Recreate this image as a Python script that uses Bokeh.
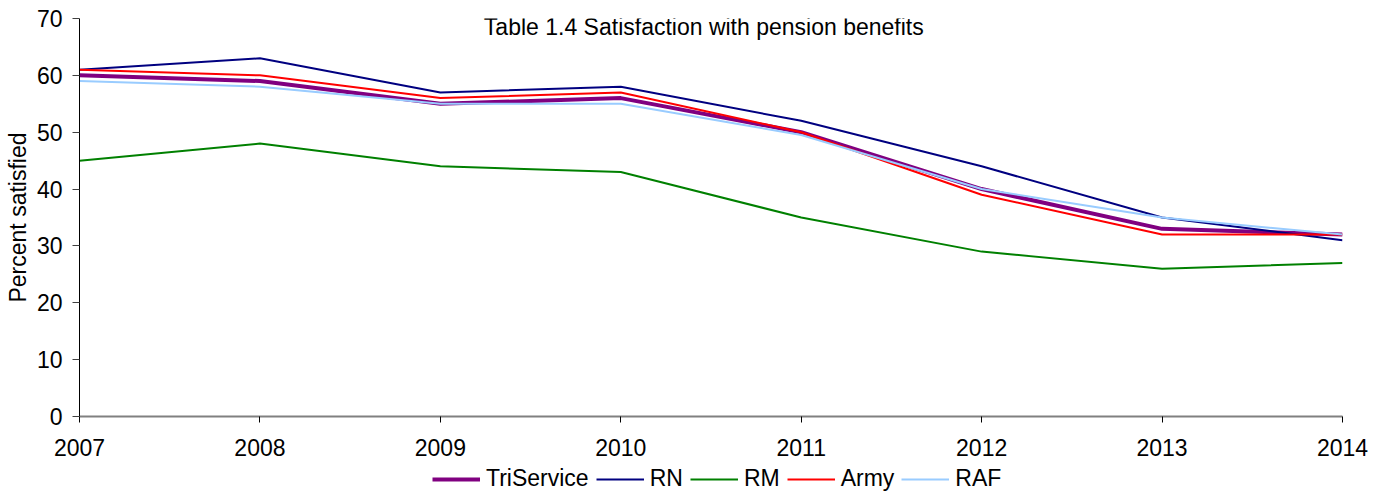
from bokeh.plotting import figure
from bokeh.layouts import column
from bokeh.models import Range1d, FixedTicker, Legend, LegendItem, Label
from bokeh.embed import file_html
from bokeh.resources import INLINE

years = [2007, 2008, 2009, 2010, 2011, 2012, 2013, 2014]
triservice = [60, 59, 55, 56, 50, 40, 33, 32]
rn = [61, 63, 57, 58, 52, 44, 35, 31]
rm = [45, 48, 44, 43, 35, 29, 26, 27]
army = [61, 60, 56, 57, 50, 39, 32, 32]
raf = [59, 58, 55, 55, 49.5, 40, 35, 32]
y_ticks = [0, 10, 20, 30, 40, 50, 60, 70]

title_text = "Table 1.4 Satisfaction with pension benefits"
y_label = "Percent satisfied"
FONT = "Liberation Sans"

p = figure(width=1385, height=465, output_backend="svg", toolbar_location=None,
           x_range=Range1d(2007, 2014), y_range=Range1d(0, 70),
           min_border_left=79, min_border_right=43, min_border_top=18, min_border_bottom=49)
p.outline_line_color = None
p.xgrid.grid_line_color = None
p.ygrid.grid_line_color = None
p.background_fill_color = "white"
p.border_fill_color = "white"

series = [
    ("TriService", triservice, "#800080", 4),
    ("RN", rn, "#000080", 2),
    ("RM", rm, "#008000", 2),
    ("Army", army, "#FF0000", 2),
    ("RAF", raf, "#99CCFF", 2),
]
for name, vals, color, w in series:
    p.line(years, vals, line_color=color, line_width=w)

# axes
xa = p.xaxis[0]
xa.ticker = FixedTicker(ticks=years)
xa.axis_line_color = "#808080"
xa.axis_line_width = 2
xa.major_tick_line_color = "black"
xa.major_tick_out = 6
xa.major_tick_in = 0
xa.minor_tick_line_color = None
xa.major_label_text_font = FONT
xa.major_label_text_font_size = "23px"
xa.major_label_text_color = "black"
xa.major_label_standoff = 16

ya = p.yaxis[0]
ya.ticker = FixedTicker(ticks=y_ticks)
ya.axis_line_color = "black"
ya.major_tick_line_color = "#404040"
ya.major_tick_out = 7
ya.major_tick_in = 0
ya.minor_tick_line_color = None
ya.major_label_text_font = FONT
ya.major_label_text_font_size = "23px"
ya.major_label_text_color = "black"
ya.major_label_standoff = 10
ya.axis_label = y_label
ya.axis_label_text_font = FONT
ya.axis_label_text_font_size = "23px"
ya.axis_label_text_font_style = "normal"
ya.axis_label_text_color = "black"
ya.axis_label_standoff = 3

p.add_layout(Label(x=2010.46, y=68.5, text=title_text, text_align="center",
                   text_baseline="alphabetic", text_font=FONT, text_font_size="23px",
                   text_color="black"))

# legend strip below the chart (its lines lie outside this strip's ranges,
# so only the legend entries are visible)
lg = figure(width=1385, height=33, output_backend="svg", toolbar_location=None,
            x_range=Range1d(0, 1), y_range=Range1d(0, 1),
            x_axis_type=None, y_axis_type=None, min_border=0)
lg.outline_line_color = None
lg.xgrid.grid_line_color = None
lg.ygrid.grid_line_color = None
items = []
for name, vals, color, w in series:
    r = lg.line(years, vals, line_color=color, line_width=w)
    items.append(LegendItem(label=name, renderers=[r]))

legend = Legend(items=items, orientation="horizontal", location=(353, 6),
                padding=0, margin=0, spacing=7, label_standoff=6,
                glyph_width=48, glyph_height=20, label_height=20,
                label_text_font=FONT, label_text_font_size="23px",
                label_text_color="black", border_line_color=None,
                background_fill_alpha=0)
lg.add_layout(legend)

layout = column(p, lg, spacing=0)
open("out.html", "w").write(file_html(layout, INLINE))
